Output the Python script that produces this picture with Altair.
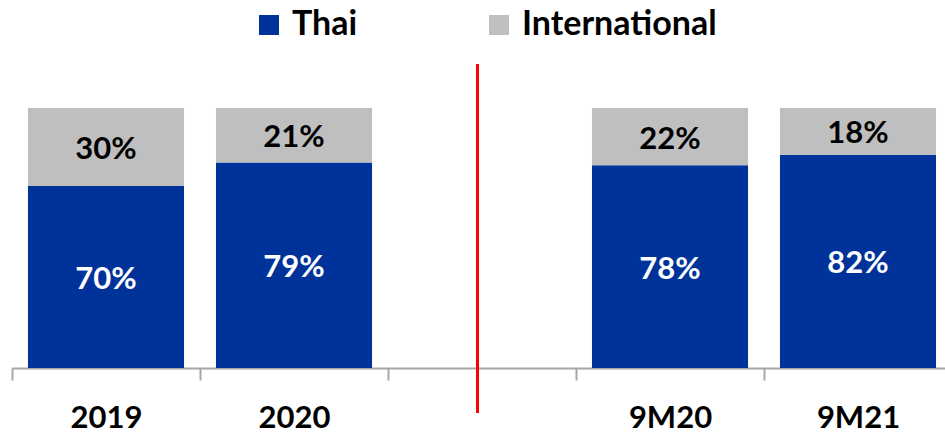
import altair as alt
import pandas as pd

categories = ["2019", "2020", " ", "9M20", "9M21"]
thai = [70, 79, None, 78, 82]
international = [30, 21, None, 22, 18]
series = ["Thai", "International"]
colors = ["#003399", "#BFBFBF"]
text_colors = ["white", "black"]

rows = []
for i, c in enumerate(categories):
    for s, vals in zip(series, [thai, international]):
        if vals[i] is not None:
            rows.append({"cat": c, "series": s, "value": vals[i], "order": series.index(s)})
df = pd.DataFrame(rows)

FONT = "Lato"

x_enc = alt.X("cat:N", sort=categories,
              scale=alt.Scale(domain=categories, range=[0, 940], paddingInner=0, paddingOuter=0),
              axis=alt.Axis(title=None, labelAngle=0, labelFont=FONT, labelFontSize=31,
                            labelFontWeight="bold", labelColor="black", labelPadding=23,
                            domainColor="#A6A6A6", domainWidth=2, tickColor="#A6A6A6",
                            tickWidth=2, tickSize=12, tickBand="extent", grid=False))

base = alt.Chart(df)

bars = base.mark_bar(width=alt.RelativeBandSize(0.83)).encode(
    x=x_enc,
    y=alt.Y("value:Q", stack="zero", scale=alt.Scale(domain=[0, 100]), axis=None),
    color=alt.Color("series:N", sort=series,
                    scale=alt.Scale(domain=series, range=colors),
                    legend=alt.Legend(title=None, orient="none", direction="horizontal",
                                      legendX=240, legendY=-100, symbolType="square",
                                      symbolSize=400, symbolStrokeWidth=0, labelFont=FONT,
                                      labelFontSize=34, labelFontWeight="bold",
                                      labelColor="black", columnPadding=124, labelOffset=6,
                                      labelLimit=400)),
    order=alt.Order("order:Q"),
)

labels = base.transform_stack(
    stack="value", groupby=["cat"], as_=["y0", "y1"], sort=[alt.SortField("order")]
).transform_calculate(
    mid="(datum.y0 + datum.y1) / 2",
    label="datum.value + '%'",
).mark_text(font=FONT, fontSize=31, fontWeight="bold", dy=3).encode(
    x=alt.X("cat:N", sort=categories),
    y=alt.Y("mid:Q"),
    text="label:N",
    color=alt.Color("series:N", scale=alt.Scale(domain=series, range=text_colors), legend=None),
)

rule = alt.Chart(pd.DataFrame({"k": [0]})).mark_rule(color="#FF0000", strokeWidth=3).encode(
    x=alt.value(465.5), y=alt.value(-44), y2=alt.value(305)
)

chart = alt.layer(bars, labels, rule).resolve_scale(color="independent").properties(
    width=933, height=260,
    padding={"left": 12, "top": 108, "right": 0, "bottom": 65},
    autosize=alt.AutoSizeParams(type="none"),
    background="white",
).configure_view(strokeWidth=0, stroke="transparent")

chart.save("out.html", embed_options={"renderer": "svg", "actions": False})
